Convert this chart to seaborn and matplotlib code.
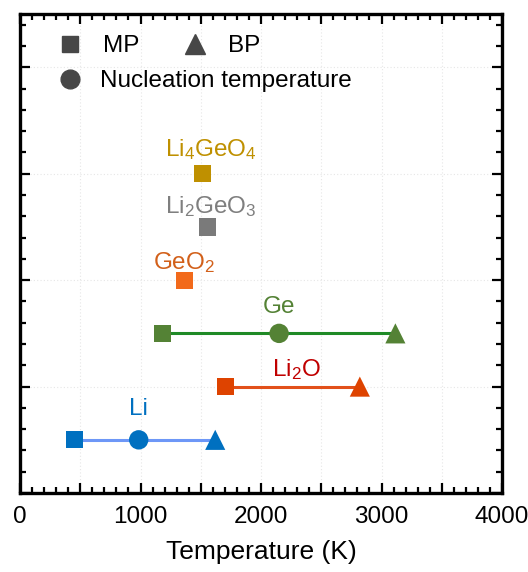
import matplotlib
matplotlib.use("Agg")
import matplotlib.pyplot as plt
from matplotlib.lines import Line2D
from matplotlib.ticker import MultipleLocator
import seaborn as sns
import pandas as pd

sns.set_theme(style="white")
plt.rcParams["font.family"] = ["Liberation Sans", "DejaVu Sans"]
plt.rcParams["mathtext.fontset"] = "custom"
plt.rcParams["mathtext.rm"] = "Liberation Sans"
plt.rcParams["mathtext.it"] = "Liberation Sans"
for key in ["text.color", "axes.labelcolor", "xtick.color", "ytick.color"]:
    plt.rcParams[key] = "black"

# Compounds, their row on the chart and characteristic temperatures (K)
compounds = ["Li", "Li2O", "Ge", "GeO2", "Li2GeO3", "Li4GeO4"]
rows = [0.5, 1.0, 1.5, 2.0, 2.5, 3.0]
melting = [454, 1708, 1185, 1365, 1555, 1515]
boiling = [1620, 2820, 3115, None, None, None]
nucleation = [985, None, 2150, None, None, None]

labels = [r"Li", r"Li$_\mathregular{2}$O", r"Ge", r"GeO$_\mathregular{2}$",
          r"Li$_\mathregular{2}$GeO$_\mathregular{3}$",
          r"Li$_\mathregular{4}$GeO$_\mathregular{4}$"]
marker_colors = ["#0070C0", "#DE4300", "#548235", "#F26A1B", "#7A7A7A", "#BF9000"]
line_colors = ["#6D97F7", "#E2501A", "#1F8A26", "#F26A1B", "#7A7A7A", "#BF9000"]
label_colors = ["#0070C0", "#C00000", "#548235", "#D2601A", "#7F7F7F", "#BF9000"]
label_pos = [(985, 0.79), (2290, 1.16), (2150, 1.75), (1365, 2.17), (1580, 2.69), (1580, 3.23)]

recs = []
for c, y, mp, bp, nt in zip(compounds, rows, melting, boiling, nucleation):
    recs.append((c, "MP", mp, y))
    if nt is not None:
        recs.append((c, "Nucleation", nt, y))
    if bp is not None:
        recs.append((c, "BP", bp, y))
df = pd.DataFrame(recs, columns=["compound", "kind", "T", "y"])

fig = plt.figure(figsize=(5.28, 5.72), dpi=100)
ax = fig.add_axes([0.0379, 0.138, 0.9129, 0.8375])

# connecting lines from MP through nucleation to BP
ranged = df[df["compound"].isin(["Li", "Li2O", "Ge"])]
sns.lineplot(data=ranged, x="T", y="y", hue="compound",
             palette=dict(zip(compounds, line_colors)), estimator=None,
             sort=True, linewidth=2.2, legend=False, ax=ax, zorder=2)

marker_map = {"MP": "s", "BP": "^", "Nucleation": "o"}
size_map = {"MP": 155, "BP": 210, "Nucleation": 195}
for kind, sub in df.groupby("kind"):
    sns.scatterplot(data=sub, x="T", y="y", hue="compound",
                    palette=dict(zip(compounds, marker_colors)),
                    marker=marker_map[kind], s=size_map[kind], linewidth=0,
                    legend=False, ax=ax, zorder=3)

for lab, col, (tx, ty) in zip(labels, label_colors, label_pos):
    ax.text(tx, ty, lab, color=col, fontsize=17.5, ha="center", va="center")

ax.set_xlim(0, 4000)
ax.set_ylim(0, 4.5)
ax.xaxis.set_major_locator(MultipleLocator(500))
ax.xaxis.set_minor_locator(MultipleLocator(100))
ax.yaxis.set_major_locator(MultipleLocator(1))
ax.yaxis.set_minor_locator(MultipleLocator(0.2))
ax.set_xticks([0, 500, 1000, 1500, 2000, 2500, 3000, 3500, 4000])
ax.set_xticklabels(["0", "", "1000", "", "2000", "", "3000", "", "4000"])
ax.set_yticklabels([])
ax.tick_params(which="both", direction="in", top=True, right=True,
               bottom=True, left=True, width=1.6, color="black",
               labelsize=17.5, pad=9)
ax.tick_params(which="major", length=7)
ax.tick_params(which="minor", length=4.5)
ax.grid(True, which="major", linestyle=(0, (1, 2)), color="#E6E6E6", linewidth=0.8)
for sp in ax.spines.values():
    sp.set_linewidth(2.4)
    sp.set_color("black")
ax.set_xlabel("Temperature (K)", fontsize=19, labelpad=9)
ax.set_ylabel("")

legend_gray = "#474747"
h_mp = Line2D([], [], marker="s", color=legend_gray, linestyle="none", markersize=12)
h_bp = Line2D([], [], marker="^", color=legend_gray, linestyle="none", markersize=14)
h_nt = Line2D([], [], marker="o", color=legend_gray, linestyle="none", markersize=13.5)
leg1 = ax.legend([h_mp, h_bp], ["MP", "BP"], ncol=2, frameon=False,
                 loc="upper left", bbox_to_anchor=(0.033, 0.976),
                 fontsize=17.5, handletextpad=0.36, columnspacing=1.28,
                 borderaxespad=0)
ax.add_artist(leg1)
ax.legend([h_nt], ["Nucleation temperature"], frameon=False,
          loc="upper left", bbox_to_anchor=(0.033, 0.903), fontsize=17.5,
          handletextpad=0.25, borderaxespad=0)

fig.savefig("out.png", dpi=100)
